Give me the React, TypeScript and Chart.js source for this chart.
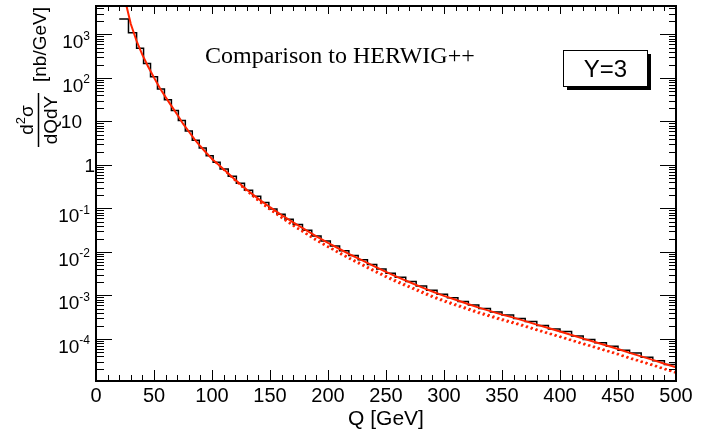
import React, { useEffect, useRef } from "react";
import { Chart, registerables } from "chart.js";

Chart.register(...registerables);

// Histogram (HERWIG++): bin edges [GeV] and bin contents [nb/GeV]
const histEdges = [
  20, 28, 35, 41, 47, 53, 59, 65, 71, 77,
  83, 89, 95, 101, 107, 114, 121, 128, 135, 142,
  149, 156, 163, 170, 178, 186, 194, 202, 210, 218,
  226, 234, 242, 250, 258, 267, 276, 285, 294, 303,
  312, 321, 330, 340, 350, 360, 370, 380, 390, 400,
  410, 420, 430, 440, 450, 460, 470, 480, 490, 500,
];
const histValues = [
  2270, 1100, 480, 214, 107, 56.2, 31.6, 17.8, 10.5, 6.03,
  3.72, 2.45, 1.62, 1.15, 0.813, 0.55, 0.38, 0.263, 0.191, 0.138,
  0.0974, 0.0741, 0.0562, 0.0427, 0.0316, 0.0234, 0.0178, 0.0138, 0.0107, 8.32e-3,
  6.61e-3, 5.13e-3, 4.08e-3, 3.24e-3, 2.63e-3, 2.09e-3, 1.66e-3, 1.32e-3, 1.07e-3, 8.91e-4,
  7.25e-4, 6.03e-4, 5.01e-4, 4.17e-4, 3.55e-4, 2.95e-4, 2.51e-4, 2.04e-4, 1.7e-4, 1.48e-4,
  1.17e-4, 9.74e-5, 8.13e-5, 6.76e-5, 5.49e-5, 4.78e-5, 3.8e-5, 3.16e-5, 2.57e-5,
];

// Solid red curve
const curveQ = [
  20, 22, 25, 30, 35, 40, 45, 50, 55, 60, 65, 70, 75, 80, 85, 90, 95, 100,
  110, 120, 130, 140, 150, 160, 170, 180, 190, 200, 210, 220, 230, 240, 250,
  260, 270, 280, 290, 300, 310, 320, 330, 340, 350, 360, 370, 380, 390, 400,
  410, 420, 430, 440, 450, 460, 470, 480, 490, 500,
];
const curveSolid = [
  2.24e4, 1.26e4, 6.31e3, 1.74e3, 708, 339, 182, 102, 58.9, 36.3, 22.9, 14.5, 8.91, 5.89, 3.89, 2.69, 1.91, 1.38,
  0.794, 0.457, 0.269, 0.166, 0.107, 0.0708, 0.0479, 0.0331, 0.0229, 0.0162, 0.0117, 8.51e-3, 6.31e-3, 4.68e-3, 3.47e-3,
  2.63e-3, 2.04e-3, 1.58e-3, 1.23e-3, 9.77e-4, 7.94e-4, 6.46e-4, 5.25e-4, 4.37e-4, 3.63e-4, 3.09e-4, 2.57e-4, 2.14e-4, 1.78e-4, 1.48e-4,
  1.23e-4, 1.02e-4, 8.51e-5, 7.08e-5, 5.89e-5, 4.79e-5, 3.98e-5, 3.31e-5, 2.69e-5, 2.24e-5,
];

// Dotted red curves
const dottedQ = [
  100, 110, 120, 130, 140, 150, 160, 170, 180, 190, 200, 210, 220, 230, 240, 250,
  260, 270, 280, 290, 300, 310, 320, 330, 340, 350, 360, 370, 380, 390, 400,
  410, 420, 430, 440, 450, 460, 470, 480, 490, 500,
];
const dottedA = [
  1.38, 0.79, 0.447, 0.257, 0.155, 0.0977, 0.0631, 0.0417, 0.0282, 0.0193, 0.0135, 9.77e-3, 7.0e-3, 5.19e-3, 3.8e-3, 2.82e-3,
  2.14e-3, 1.64e-3, 1.27e-3, 9.77e-4, 7.76e-4, 6.31e-4, 5.13e-4, 4.17e-4, 3.47e-4, 2.88e-4, 2.43e-4, 2.02e-4, 1.66e-4, 1.38e-4, 1.15e-4,
  9.55e-5, 7.94e-5, 6.61e-5, 5.5e-5, 4.57e-5, 3.72e-5, 3.09e-5, 2.57e-5, 2.09e-5, 1.74e-5,
];
const dottedB = [
  1.38, 0.785, 0.437, 0.251, 0.148, 0.0933, 0.0603, 0.0398, 0.0269, 0.0182, 0.0129, 9.12e-3, 6.61e-3, 4.84e-3, 3.55e-3, 2.63e-3,
  1.97e-3, 1.53e-3, 1.17e-3, 9.12e-4, 7.24e-4, 5.89e-4, 4.79e-4, 3.89e-4, 3.24e-4, 2.69e-4, 2.29e-4, 1.91e-4, 1.58e-4, 1.32e-4, 1.1e-4,
  9.12e-5, 7.59e-5, 6.31e-5, 5.25e-5, 4.37e-5, 3.55e-5, 2.95e-5, 2.45e-5, 2.0e-5, 1.66e-5,
];

// Axes
const xMin = 0;
const xMax = 500;
const yMin = 1.08e-5;
const yMax = 4.52e3;
const xMajorTicks = [0, 50, 100, 150, 200, 250, 300, 350, 400, 450, 500];
const xTickLabels = ["0", "50", "100", "150", "200", "250", "300", "350", "400", "450", "500"];
const xMinorStep = 10;
const yTickValues = [1e-4, 1e-3, 1e-2, 1e-1, 1, 10, 100, 1000];
const yTickBase = ["10", "10", "10", "10", "1", "10", "10", "10"];
const yTickExp = ["-4", "-3", "-2", "-1", "", "", "2", "3"];
const xTitle = "Q [GeV]";
const yTitleNum = ["d", "2", "σ"];
const yTitleDen = "dQdY";
const yTitleUnit = "[nb/GeV]";
const titleText = "Comparison to HERWIG++";
const boxText = "Y=3";

const SANS = '"Liberation Sans", Arial, Helvetica, sans-serif';
const SERIF = '"Liberation Serif", "Times New Roman", serif';
const RED = "#ff2200";

const framePlugin = {
  id: "rootFrame",
  afterDraw(chart: any) {
    const ctx: CanvasRenderingContext2D = chart.ctx;
    const { left, right, top, bottom } = chart.chartArea;
    const xs = chart.scales.x;
    const ys = chart.scales.y;
    ctx.save();
    ctx.fillStyle = "#000";
    ctx.strokeStyle = "#000";

    // frame
    ctx.lineWidth = 2;
    ctx.strokeRect(left, top, right - left, bottom - top);

    // x ticks (bottom and top)
    ctx.lineWidth = 1;
    ctx.beginPath();
    for (let v = xMin; v <= xMax + 1e-9; v += xMinorStep) {
      const px = Math.round(xs.getPixelForValue(v)) + 0.5;
      const major = xMajorTicks.includes(v);
      ctx.moveTo(px, bottom);
      ctx.lineTo(px, bottom - (major ? 11 : 6));
      ctx.moveTo(px, top);
      ctx.lineTo(px, top + (major ? 8 : 5));
    }
    // y ticks (left and right)
    const e0 = Math.floor(Math.log10(yMin));
    const e1 = Math.ceil(Math.log10(yMax));
    for (let e = e0; e <= e1; e++) {
      for (let m = 1; m <= 9; m++) {
        const v = m * Math.pow(10, e);
        if (v < yMin || v > yMax) continue;
        const py = Math.round(ys.getPixelForValue(v)) + 0.5;
        const major = m === 1;
        ctx.moveTo(left, py);
        ctx.lineTo(left + (major ? 16 : 8), py);
        ctx.moveTo(right, py);
        ctx.lineTo(right - (major ? 16 : 7), py);
      }
    }
    ctx.stroke();

    // x tick labels
    ctx.font = `20px ${SANS}`;
    ctx.textAlign = "center";
    ctx.textBaseline = "alphabetic";
    xMajorTicks.forEach((v, i) => {
      ctx.fillText(xTickLabels[i], xs.getPixelForValue(v), 402);
    });

    // y tick labels
    yTickValues.forEach((v, i) => {
      const py = ys.getPixelForValue(v);
      const base = yTickBase[i];
      const exp = yTickExp[i];
      ctx.textAlign = "right";
      if (exp) {
        ctx.font = `12px ${SANS}`;
        const ew = ctx.measureText(exp).width;
        ctx.fillText(exp, 90, py + 5.5);
        ctx.font = `19px ${SANS}`;
        ctx.fillText(base, 90 - ew, py + 14);
      } else {
        ctx.font = `19px ${SANS}`;
        ctx.fillText(base, base.length === 1 ? 95 : 82, py + 7);
      }
    });

    // x title
    ctx.font = `21px ${SANS}`;
    ctx.textAlign = "center";
    ctx.fillText(xTitle, (left + right) / 2, 425);

    // y title (rotated)
    ctx.save();
    ctx.rotate(-Math.PI / 2);
    ctx.font = `19px ${SANS}`;
    ctx.textAlign = "center";
    const cy = 120;
    ctx.fillText(yTitleDen, -cy, 57);
    ctx.textAlign = "left";
    const wd = ctx.measureText(yTitleNum[0]).width;
    const ws = ctx.measureText(yTitleNum[2]).width;
    ctx.font = `13px ${SANS}`;
    const w2 = ctx.measureText(yTitleNum[1]).width;
    const total = wd + w2 + ws;
    const u0 = -cy - total / 2;
    ctx.font = `19px ${SANS}`;
    ctx.fillText(yTitleNum[0], u0, 33);
    ctx.font = `13px ${SANS}`;
    ctx.fillText(yTitleNum[1], u0 + wd, 25);
    ctx.font = `19px ${SANS}`;
    ctx.fillText(yTitleNum[2], u0 + wd + w2, 33);
    ctx.lineWidth = 1.5;
    ctx.beginPath();
    ctx.moveTo(-cy - 27, 38.5);
    ctx.lineTo(-cy + 27, 38.5);
    ctx.stroke();
    ctx.fillText(yTitleUnit, -82, 46);
    ctx.restore();

    // title text
    ctx.font = `24px ${SERIF}`;
    ctx.textAlign = "left";
    ctx.fillText(titleText, 205, 63);

    // Y=3 box with shadow
    ctx.fillStyle = "#000";
    ctx.fillRect(567, 54, 84, 36);
    ctx.fillStyle = "#fff";
    ctx.fillRect(563, 50, 85, 37);
    ctx.lineWidth = 1;
    ctx.strokeStyle = "#000";
    ctx.strokeRect(563.5, 50.5, 84, 36);
    ctx.fillStyle = "#000";
    ctx.font = `24px ${SANS}`;
    ctx.textAlign = "center";
    ctx.fillText(boxText, 605.5, 77);

    ctx.restore();
  },
};

export default function App() {
  const ref = useRef<HTMLCanvasElement>(null);
  useEffect(() => {
    const histData = histEdges.map((e, i) => ({
      x: e,
      y: i < histValues.length ? histValues[i] : histValues[histValues.length - 1],
    }));
    const solidData = curveQ.map((q, i) => ({ x: q, y: curveSolid[i] }));
    const dotAData = dottedQ.map((q, i) => ({ x: q, y: dottedA[i] }));
    const dotBData = dottedQ.map((q, i) => ({ x: q, y: dottedB[i] }));
    const chart = new Chart(ref.current as HTMLCanvasElement, {
      type: "line",
      data: {
        datasets: [
          { label: "solid", data: solidData, borderColor: RED, borderWidth: 2, pointRadius: 0, fill: false, clip: 0 } as any,
          { label: "dotA", data: dotAData, borderColor: RED, borderWidth: 2, borderDash: [2, 3], pointRadius: 0, fill: false, clip: 0 } as any,
          { label: "dotB", data: dotBData, borderColor: RED, borderWidth: 2, borderDash: [2, 3], pointRadius: 0, fill: false, clip: 0 } as any,
          { label: "hist", data: histData, borderColor: "#000", borderWidth: 1.5, stepped: true, pointRadius: 0, fill: false, clip: 0 } as any,
        ],
      },
      options: {
        responsive: false,
        animation: false,
        events: [],
        layout: { padding: { left: 96, right: 30, top: 6, bottom: 54 } },
        plugins: { legend: { display: false }, tooltip: { enabled: false }, title: { display: false } },
        scales: {
          x: { type: "linear", min: xMin, max: xMax, display: false, bounds: "data" },
          y: { type: "logarithmic", min: yMin, max: yMax, display: false, bounds: "data" },
        },
      },
      plugins: [framePlugin],
    });
    return () => chart.destroy();
  }, []);
  return (
    <div style={{ position: "absolute", left: 0, top: 0, width: 706, height: 435, background: "#fff" }}>
      <canvas ref={ref} width={706} height={435} style={{ display: "block" }} />
    </div>
  );
}
